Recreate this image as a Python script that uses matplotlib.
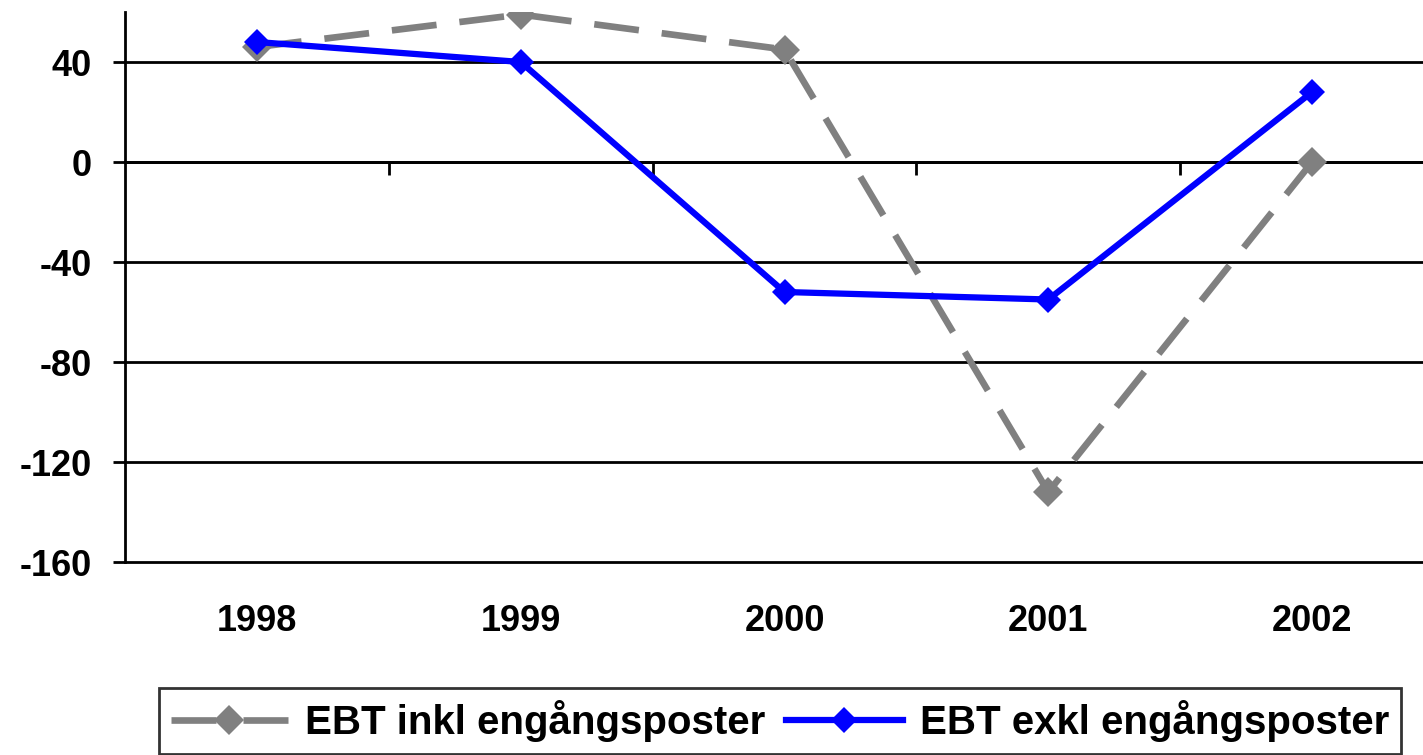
import matplotlib.pyplot as plt
import numpy as np

plt.rcParams['font.family'] = ['Liberation Sans', 'DejaVu Sans']
plt.rcParams['font.weight'] = 'bold'

# data
years = ['1998', '1999', '2000', '2001', '2002']
ebt_inkl = [46, 59, 45, -132, 0]
ebt_exkl = [48, 40, -52, -55, 28]
yticks = [-160, -120, -80, -40, 0, 40]

fig = plt.figure(figsize=(14.23, 7.55), dpi=100)
W, H = 1423, 755
ax = fig.add_axes([125 / W, 1 - 562 / H, 1319 / W, 550 / H])

x = np.arange(len(years))

ax.plot(x, ebt_inkl, color='#808080', lw=4.8, dashes=(6.75, 3.45),
        marker='D', markersize=15, markeredgewidth=0,
        label='EBT inkl engångsposter', zorder=3)
ax.plot(x, ebt_exkl, color='#0000FF', lw=4.5,
        marker='D', markersize=13, markeredgewidth=0,
        label='EBT exkl engångsposter', zorder=4)

ax.set_xlim(-0.5, 4.5)
ax.set_ylim(-160, 60)

# y axis
ax.set_yticks(yticks)
ax.set_yticklabels([str(v) for v in yticks])
ax.tick_params(axis='y', direction='out', length=9, width=2, pad=15,
               labelsize=26)
ax.grid(axis='y', color='black', lw=2, clip_on=False)

# x axis crosses at 0
for s in ['top', 'right']:
    ax.spines[s].set_visible(False)
ax.spines['left'].set_linewidth(2)
ax.spines['bottom'].set_position(('data', 0))
ax.spines['bottom'].set_linewidth(2)
ax.set_xticks(x)
ax.set_xticklabels(years)
ax.set_xticks(np.arange(0.5, 4.0, 1.0), minor=True)
ax.tick_params(axis='x', which='major', length=0, pad=318, labelsize=26)
ax.tick_params(axis='x', which='minor', direction='out', length=9, width=2)

leg = fig.legend(loc='center', bbox_to_anchor=(780 / W, 1 - 721 / H), ncol=2,
                 fontsize=29, frameon=True, fancybox=False, handlelength=2.9,
                 handletextpad=0.42, columnspacing=0.52, borderpad=0.3,
                 borderaxespad=0)
leg.get_frame().set_edgecolor('black')
leg.get_frame().set_linewidth(2)
# gray handle: one dash on each side of the diamond
leg.get_lines()[0].set_dashes((6.75, 4.05))

fig.savefig('out.png', dpi=100)
